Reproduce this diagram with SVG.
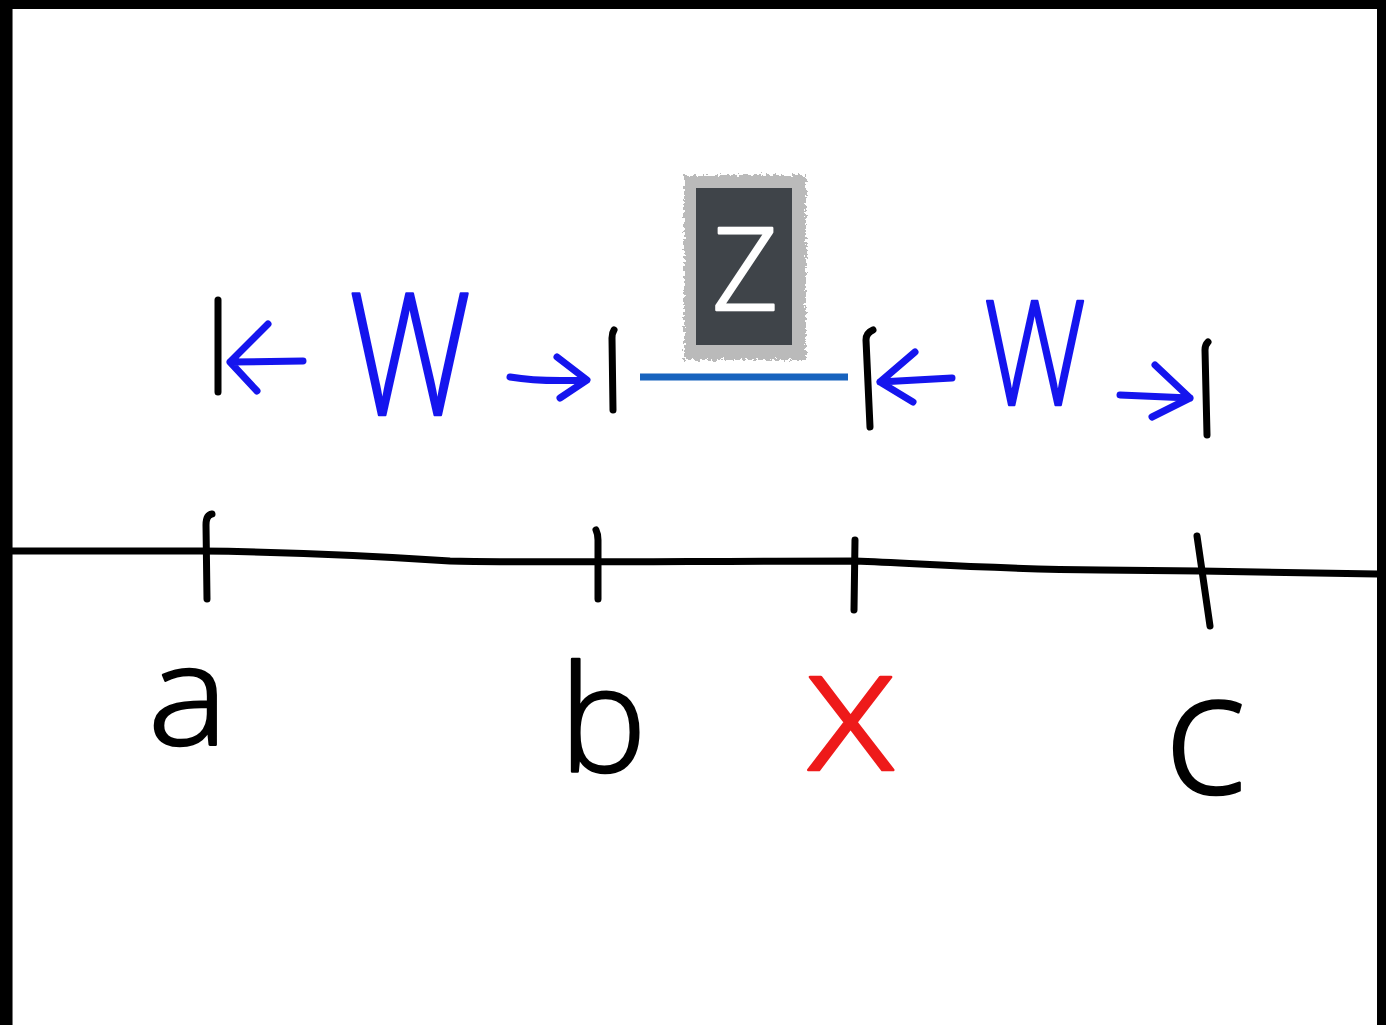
<svg xmlns="http://www.w3.org/2000/svg" width="1386" height="1025" viewBox="0 0 1386 1025">
<style>
.ink{fill:none;stroke:#000;stroke-width:7;stroke-linecap:round;stroke-linejoin:round}
.blu{fill:none;stroke:#1515ee;stroke-width:7;stroke-linecap:round;stroke-linejoin:round}
.lbl{font-family:"Open Sans","Noto Sans","DejaVu Sans",sans-serif;font-weight:300;text-anchor:middle;stroke-width:2.5;stroke-linejoin:round}
</style>
<defs>
<filter id="fuzz" x="-15%" y="-15%" width="130%" height="130%">
<feTurbulence type="fractalNoise" baseFrequency="0.35" numOctaves="2" seed="4" result="n"/>
<feDisplacementMap in="SourceGraphic" in2="n" scale="9" xChannelSelector="R" yChannelSelector="G"/>
</filter>
</defs>
<rect x="0" y="0" width="1386" height="1025" fill="#fff"/>
<g id="frame">
<rect x="0" y="0" width="1386" height="9" fill="#000"/>
<rect x="0" y="0" width="12" height="1025" fill="#000"/>
<rect x="12" y="9" width="1" height="1016" fill="#777"/>
<rect x="1377" y="0" width="9" height="1025" fill="#000"/>
</g>
<g id="connectors">
<path class="ink" d="M12,551 L200,551 C300,552 380,556 450,561 C520,563 700,561 855,561 C930,564 990,569 1100,570 L1200,571 L1377,574"/>
<line x1="640" y1="377" x2="848" y2="377" stroke="#1763be" stroke-width="7"/>
</g>
<g id="tick-a"><path class="ink" d="M212,514 Q206,515 206,525 L207,599"/></g>
<g id="tick-b"><path class="ink" d="M596,530 Q598,534 598,540 L598,599"/></g>
<g id="tick-x"><path class="ink" d="M855,540 L854,610"/></g>
<g id="tick-c"><path class="ink" d="M1197,536 L1210,626"/></g>
<g id="label-a"><text class="lbl" x="188" y="745" font-size="140" fill="#000" stroke="#000" textLength="80" lengthAdjust="spacingAndGlyphs">a</text></g>
<g id="label-b"><text class="lbl" x="603" y="772" font-size="147" fill="#000" stroke="#000">b</text></g>
<g id="label-x"><text class="lbl" x="851" y="770" font-size="175" fill="#ee1a1a" stroke="#ee1a1a" textLength="94" lengthAdjust="spacingAndGlyphs">x</text></g>
<g id="label-c"><text class="lbl" x="1205" y="793" font-size="172" fill="#000" stroke="#000">c</text></g>
<g id="dim-left">
<path class="ink" d="M218,300 L218,392"/>
<path class="blu" d="M303,361 L230,362 M268,324 L230,362 L257,391"/>
<text class="lbl" x="410" y="415" font-size="170" fill="#1515ee" stroke="#1515ee" textLength="122" lengthAdjust="spacingAndGlyphs">W</text>
<path class="blu" d="M510,377 Q540,382 585,380 M557,357 L587,380 L560,398"/>
<path class="ink" d="M614,330 Q612,333 612,338 L613,410"/>
</g>
<g id="dim-right">
<path class="ink" d="M873,330 Q866,333 866,340 L870,427"/>
<path class="blu" d="M952,378 L880,382 M915,352 L880,382 L913,402"/>
<text class="lbl" x="1035" y="405" font-size="145" fill="#1515ee" stroke="#1515ee" textLength="102" lengthAdjust="spacingAndGlyphs">W</text>
<path class="blu" d="M1120,395 L1190,398 M1155,365 L1190,398 L1152,417"/>
<path class="ink" d="M1208,342 Q1205,345 1205,350 L1207,435"/>
</g>
<g id="node-z">
<rect x="684" y="175" width="122" height="185" fill="#bababa" filter="url(#fuzz)"/>
<rect x="696" y="188" width="96" height="157" fill="#3f4449"/>
<text class="lbl" x="745" y="310" font-size="114" fill="#fff" stroke="#fff" stroke-width="1">Z</text>
</g>
</svg>
